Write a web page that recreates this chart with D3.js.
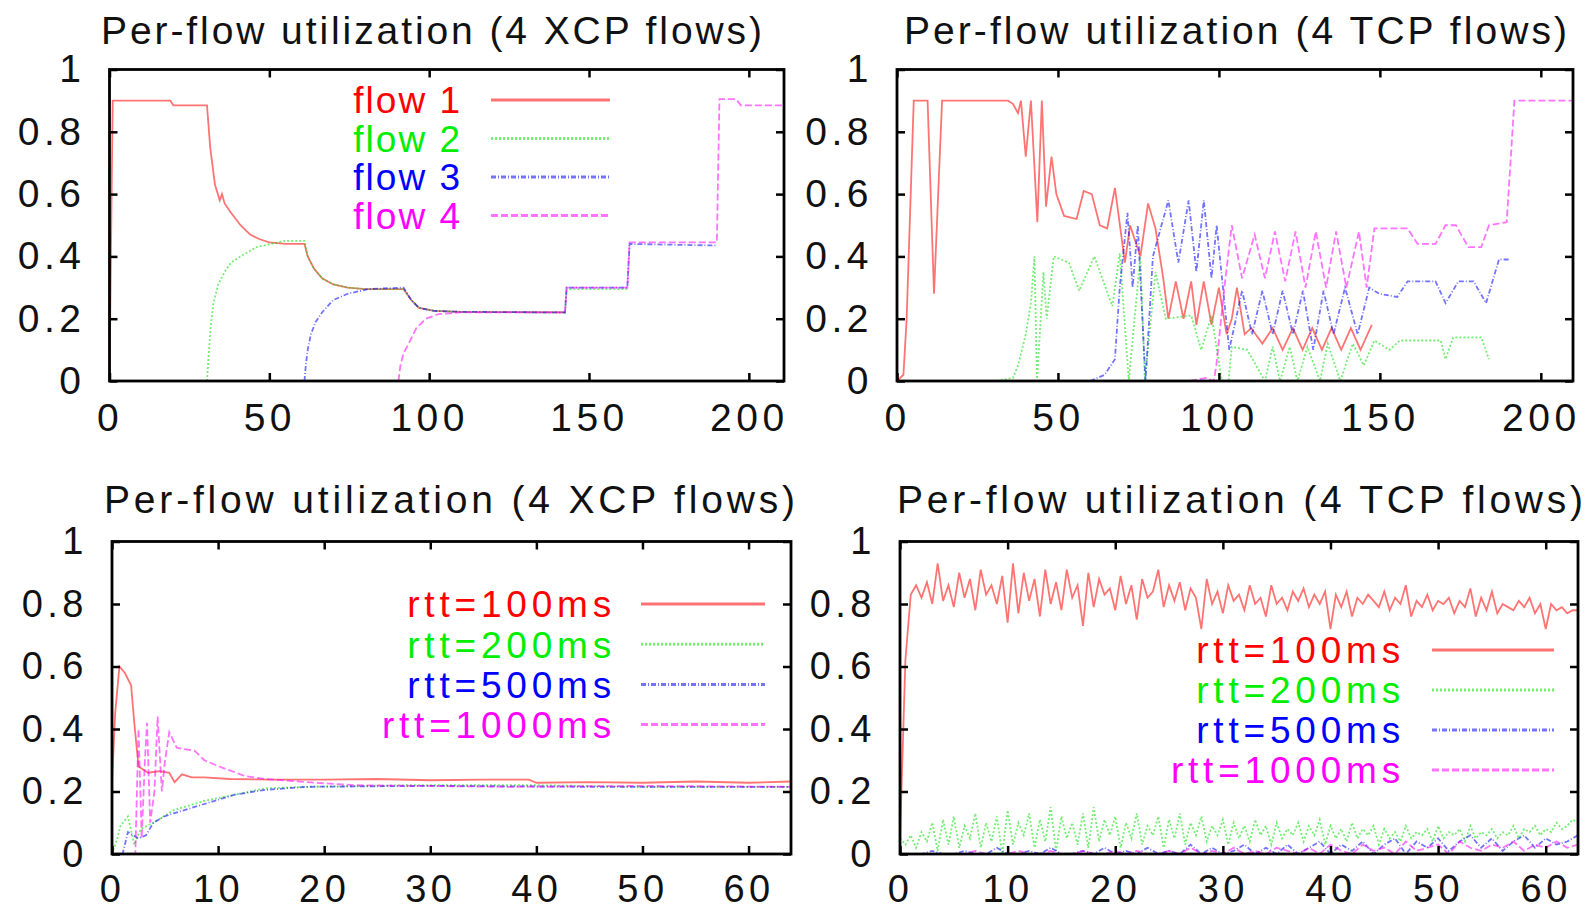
<!DOCTYPE html>
<html>
<head>
<meta charset="utf-8">
<script src="https://cdn.jsdelivr.net/npm/d3@7"></script>
<style>
  body { margin: 0; background: #fff; }
  text { font-family: "Liberation Sans", Arial, sans-serif; fill: #111; }
</style>
</head>
<body>
<svg class="chart" width="1589" height="911"></svg>
<script>
// ---- top-left: 4 XCP flows joining/leaving ----
const xcpF1T = [0, 1, 19, 20, 30.5, 31.5, 33, 34.5, 35.2, 36, 38, 41, 44, 47, 50, 55, 61, 62, 64, 66.5, 70, 74.5, 80, 92, 94.4, 96.8, 101.6, 110, 142.5];
const xcpF1U = [0, 0.9, 0.9, 0.885, 0.885, 0.75, 0.63, 0.58, 0.6, 0.57, 0.54, 0.5, 0.47, 0.455, 0.445, 0.44, 0.44, 0.4, 0.36, 0.33, 0.31, 0.3, 0.295, 0.295, 0.26, 0.235, 0.225, 0.222, 0.22];
const xcpF2T = [30.5, 31, 31.6, 32.5, 34, 36, 38, 41, 46, 50.5, 55, 61, 62, 64, 66.5, 70, 74.5, 80, 92, 94.4, 96.8, 101.6, 110, 142.5, 143, 162];
const xcpF2U = [0, 0.08, 0.17, 0.25, 0.31, 0.35, 0.38, 0.4, 0.43, 0.44, 0.45, 0.45, 0.4, 0.36, 0.33, 0.31, 0.3, 0.295, 0.295, 0.26, 0.235, 0.225, 0.222, 0.22, 0.295, 0.295];
const xcpF3T = [61, 61.4, 62, 63, 64.5, 66.5, 70, 74.5, 81, 92, 94.4, 96.8, 101.6, 110, 142.5, 143, 162, 162.7, 190];
const xcpF3U = [0, 0.05, 0.1, 0.15, 0.19, 0.22, 0.26, 0.28, 0.295, 0.3, 0.26, 0.235, 0.225, 0.222, 0.22, 0.3, 0.3, 0.44, 0.435];
const xcpF4T = [90.4, 91, 92, 93.6, 96, 99, 103, 109.6, 142.5, 143, 162, 162.7, 190, 190.8, 196, 197.5, 211];
const xcpF4U = [0, 0.05, 0.09, 0.12, 0.17, 0.2, 0.215, 0.22, 0.22, 0.3, 0.3, 0.445, 0.445, 0.905, 0.905, 0.885, 0.885];

// ---- top-right: 4 TCP flows joining/leaving ----
const tcpF1T = [0, 2, 3, 5.2, 9.5, 11.5, 14, 34.5, 36, 37.6, 38.5, 40, 41.6, 43.6, 45, 46.3, 48, 49.5, 51.9, 55.8, 58, 60.5, 63, 65.3, 67.7, 70.8, 72.4, 75.6, 78, 80.3, 82.7, 84.3, 86.6, 89, 91.4, 93, 95.3, 97.7, 100, 102.4, 104, 105.6, 108, 110, 113.5, 116.7, 119.8, 123, 126, 129, 132, 135, 138, 141, 144, 147.5];
const tcpF1U = [0, 0.02, 0.2, 0.9, 0.9, 0.28, 0.9, 0.9, 0.89, 0.86, 0.9, 0.72, 0.9, 0.51, 0.9, 0.56, 0.72, 0.6, 0.53, 0.52, 0.61, 0.6, 0.5, 0.49, 0.62, 0.38, 0.5, 0.4, 0.57, 0.49, 0.33, 0.2, 0.32, 0.2, 0.32, 0.18, 0.32, 0.18, 0.3, 0.15, 0.2, 0.3, 0.15, 0.17, 0.12, 0.17, 0.1, 0.17, 0.1, 0.17, 0.1, 0.17, 0.1, 0.17, 0.1, 0.18];
const tcpF2T = [31, 36, 37.6, 40, 41.6, 42.7, 43.5, 45.5, 46.5, 48.7, 53.4, 56.6, 61.3, 66.9, 69.2, 72, 75.6, 77, 80.3, 83.5, 91.4, 94.5, 97.7, 100.9, 103, 104, 108.8, 114.3, 116.7, 119, 122, 124.4, 127.5, 131.4, 133.8, 137.7, 141.6, 145, 148.3, 153, 156.2, 168.9, 170.4, 172.8, 181.5, 183.9];
const tcpF2U = [0, 0.01, 0.05, 0.15, 0.25, 0.4, 0, 0.35, 0.2, 0.4, 0.38, 0.29, 0.4, 0.24, 0.41, 0, 0.4, 0, 0.35, 0.2, 0.21, 0.1, 0.21, 0, 0, 0.11, 0.1, 0, 0.11, 0, 0.11, 0, 0.11, 0, 0.12, 0, 0.12, 0.05, 0.13, 0.1, 0.13, 0.13, 0.07, 0.14, 0.14, 0.07];
const tcpF3T = [60, 64.5, 67.7, 69.2, 71.6, 73.2, 74.8, 77.2, 79.5, 84.3, 87.4, 90.6, 93, 95.3, 97.7, 99.3, 103.2, 107.2, 110.3, 113.5, 116.7, 119.8, 123, 126.1, 129.3, 132.5, 135.6, 139.2, 143.1, 146.7, 149.8, 155.4, 158.6, 167.3, 170.4, 174.4, 179.1, 183, 187, 190.2];
const tcpF3U = [0, 0.02, 0.07, 0.3, 0.54, 0.3, 0.5, 0, 0.4, 0.58, 0.38, 0.58, 0.35, 0.58, 0.33, 0.5, 0.1, 0.29, 0.15, 0.29, 0.15, 0.29, 0.15, 0.29, 0.1, 0.29, 0.15, 0.3, 0.15, 0.3, 0.28, 0.27, 0.32, 0.32, 0.25, 0.32, 0.32, 0.25, 0.39, 0.39];
const tcpF4T = [91, 96, 98.4, 99.2, 101.7, 104, 107.2, 111.1, 114.3, 117.4, 120.6, 123.8, 126.9, 130.1, 133.3, 136.4, 139.6, 143.5, 145.9, 148.3, 158.6, 161.7, 167.3, 170.4, 173.6, 177.5, 181.5, 183.9, 189.4, 191.8, 210];
const tcpF4U = [0, 0.01, 0, 0.05, 0.3, 0.5, 0.33, 0.47, 0.33, 0.48, 0.32, 0.48, 0.3, 0.48, 0.3, 0.48, 0.3, 0.48, 0.3, 0.49, 0.49, 0.44, 0.44, 0.5, 0.5, 0.43, 0.43, 0.5, 0.51, 0.9, 0.9];

// ---- bottom-left: XCP flows with different RTTs ----
const xcpR100T = [0, 0.3, 0.7, 1.2, 1.8, 2.1, 2.5, 3.4, 4.5, 5.4, 5.9, 6.6, 7.5, 8.7, 11.1, 15, 20, 25, 30, 35, 39.3, 40, 45, 50, 55, 60, 64];
const xcpR100U = [0.23, 0.45, 0.6, 0.58, 0.54, 0.42, 0.28, 0.26, 0.265, 0.26, 0.23, 0.255, 0.245, 0.245, 0.24, 0.238, 0.238, 0.24, 0.236, 0.238, 0.238, 0.228, 0.23, 0.228, 0.232, 0.228, 0.232];
const xcpR200T = [0, 0.5, 0.8, 1.5, 2.1, 2.7, 3.9, 5.8, 8.7, 11.6, 14.4, 18.3, 27.8, 40, 50, 64];
const xcpR200U = [0, 0.05, 0.09, 0.12, 0.03, 0.08, 0.1, 0.14, 0.17, 0.19, 0.21, 0.215, 0.22, 0.22, 0.215, 0.215];
const xcpR500T = [0, 1, 1.5, 2.5, 3.2, 3.9, 4.9, 5.8, 8.7, 11.6, 14.4, 18.3, 30, 45, 64];
const xcpR500U = [0, 0, 0.07, 0.05, 0.06, 0.1, 0.12, 0.13, 0.16, 0.19, 0.205, 0.215, 0.218, 0.215, 0.215];
const xcpR1000T = [0, 2.2, 2.5, 2.8, 3.1, 3.3, 3.6, 4, 4.3, 4.7, 5, 5.4, 6.1, 7.8, 8.7, 10.1, 12.5, 14.4, 18.3, 23, 37.4, 50, 64];
const xcpR1000U = [0, 0, 0.4, 0.05, 0.3, 0.42, 0.1, 0.2, 0.44, 0.2, 0.3, 0.39, 0.34, 0.33, 0.3, 0.28, 0.25, 0.24, 0.23, 0.22, 0.215, 0.218, 0.215];

// ---- bottom-right: TCP flows with different RTTs (sampled every half second / second) ----
const tcpRStepFast = 0.5;
const tcpRStepSlow = 1;
const tcpR100U = [0.05, 0.62, 0.83, 0.86, 0.82, 0.87, 0.80, 0.93, 0.81, 0.86, 0.79, 0.90, 0.82, 0.88, 0.78, 0.91, 0.83, 0.86, 0.80, 0.89,
  0.74, 0.93, 0.77, 0.90, 0.81, 0.88, 0.76, 0.91, 0.80, 0.87, 0.78, 0.91, 0.82, 0.86, 0.73, 0.90, 0.79, 0.88, 0.83, 0.85,
  0.78, 0.89, 0.80, 0.86, 0.75, 0.88, 0.82, 0.84, 0.91, 0.79, 0.86, 0.81, 0.87, 0.78, 0.85, 0.82, 0.72, 0.88, 0.80, 0.84,
  0.77, 0.86, 0.81, 0.83, 0.78, 0.86, 0.80, 0.82, 0.76, 0.86, 0.80, 0.82, 0.78, 0.84, 0.81, 0.85, 0.79, 0.83, 0.80, 0.84,
  0.72, 0.83, 0.79, 0.84, 0.76, 0.82, 0.80, 0.83, 0.81, 0.79, 0.84, 0.78, 0.82, 0.80, 0.86, 0.76, 0.81, 0.79, 0.83, 0.78,
  0.81, 0.80, 0.82, 0.77, 0.81, 0.79, 0.85, 0.76, 0.82, 0.78, 0.84, 0.77, 0.80, 0.79, 0.78, 0.81, 0.79, 0.82, 0.77, 0.80,
  0.72, 0.80, 0.78, 0.79, 0.77, 0.78, 0.78];
const tcpR200U = [0.05, 0.03, 0.06, 0.02, 0.07, 0.04, 0.10, 0.01, 0.11, 0.03, 0.12, 0.02, 0.09, 0.05, 0.13, 0.02, 0.10, 0.04, 0.12, 0.00,
  0.14, 0.03, 0.10, 0.06, 0.13, 0.02, 0.11, 0.04, 0.15, 0.01, 0.12, 0.05, 0.10, 0.03, 0.13, 0.02, 0.15, 0.04, 0.11, 0.06,
  0.12, 0.02, 0.10, 0.05, 0.13, 0.03, 0.09, 0.06, 0.12, 0.02, 0.11, 0.05, 0.13, 0.03, 0.10, 0.06, 0.12, 0.04, 0.09, 0.06,
  0.11, 0.03, 0.10, 0.05, 0.09, 0.04, 0.11, 0.06, 0.09, 0.03, 0.10, 0.05, 0.08, 0.06, 0.10, 0.04, 0.09, 0.06, 0.11, 0.03,
  0.09, 0.05, 0.08, 0.04, 0.10, 0.05, 0.08, 0.06, 0.09, 0.03, 0.08, 0.05, 0.07, 0.04, 0.09, 0.05, 0.07, 0.06, 0.08, 0.04,
  0.09, 0.05, 0.07, 0.06, 0.08, 0.04, 0.09, 0.05, 0.07, 0.06, 0.08, 0.05, 0.07, 0.06, 0.09, 0.05, 0.08, 0.07, 0.09, 0.06,
  0.08, 0.07, 0.10, 0.08, 0.09, 0.11, 0.10];
const tcpR500U = [0, 0, 0, 0.01, 0, 0, 0.01, 0, 0, 0.02, 0, 0, 0.01, 0, 0.02, 0, 0, 0.01, 0, 0.02,
  0, 0.01, 0, 0.02, 0, 0.01, 0, 0.03, 0, 0.02, 0, 0.01, 0.03, 0, 0.02, 0, 0.03, 0, 0.02, 0.04,
  0, 0.03, 0.01, 0.04, 0, 0.03, 0.05, 0, 0.04, 0.02, 0.05, 0.01, 0.04, 0.06, 0.02, 0.05, 0.01, 0.04, 0.06, 0.02,
  0.05, 0.03, 0.04, 0.06];
const tcpR1000U = [0, 0, 0, 0, 0, 0, 0, 0.01, 0, 0, 0, 0.01, 0, 0, 0.01, 0, 0, 0.01, 0, 0,
  0.01, 0, 0.01, 0, 0, 0.01, 0, 0.02, 0, 0.01, 0, 0.02, 0, 0.01, 0, 0.02, 0.01, 0, 0.02, 0,
  0.03, 0.01, 0, 0.03, 0.01, 0.02, 0, 0.04, 0.01, 0.02, 0.03, 0, 0.04, 0.02, 0.01, 0.03, 0.02, 0.04, 0.01, 0.03,
  0.02, 0.04, 0.02, 0.03];

const yTicks = [0, 0.2, 0.4, 0.6, 0.8, 1];
const xTicksLong = [0, 50, 100, 150, 200];
const xTicksShort = [0, 10, 20, 30, 40, 50, 60];
const flowLabels = ["flow 1", "flow 2", "flow 3", "flow 4"];
const rttLabels = ["rtt=100ms", "rtt=200ms", "rtt=500ms", "rtt=1000ms"];
const titleXcp = "Per-flow utilization (4 XCP flows)";
const titleTcp = "Per-flow utilization (4 TCP flows)";

const colors = ["#ff0000", "#00e000", "#0000ff", "#ff00ff"];
const textColors = ["#ff0000", "#00ee00", "#0000ff", "#ff00ff"];
const dashes = [null, "2,2", "5,2,1,2", "7,3"];

const zip = (t, u) => t.map((d, i) => [d, u[i]]);
const sampled = (u, step) => u.map((d, i) => [i * step, d]);

const panels = [
  {left: 109.5, right: 784, top: 69.5, bottom: 381, xmax: 211, xticks: xTicksLong,
   title: titleXcp, titleL: 101, titleW: 661, titleY: 44, labelPad: 22,
   series: [zip(xcpF1T, xcpF1U), zip(xcpF2T, xcpF2U), zip(xcpF3T, xcpF3U), zip(xcpF4T, xcpF4U)],
   legend: {labels: flowLabels, textX: 462, spacing: 2, x1: 491, x2: 610, y0: 100, dy: 38.5}},
  {left: 897, right: 1573, top: 69.5, bottom: 381, xmax: 210, xticks: xTicksLong,
   title: titleTcp, titleL: 904, titleW: 663, titleY: 44, labelPad: 22,
   series: [zip(tcpF1T, tcpF1U), zip(tcpF2T, tcpF2U), zip(tcpF3T, tcpF3U), zip(tcpF4T, tcpF4U)],
   legend: null},
  {left: 112, right: 791, top: 541.5, bottom: 854, xmax: 64, xticks: xTicksShort,
   title: titleXcp, titleL: 104, titleW: 691, titleY: 513, labelPad: 21,
   series: [zip(xcpR100T, xcpR100U), zip(xcpR200T, xcpR200U), zip(xcpR500T, xcpR500U), zip(xcpR1000T, xcpR1000U)],
   legend: {labels: rttLabels, textX: 616, spacing: 4.8, x1: 641, x2: 765, y0: 604, dy: 40.2}},
  {left: 900, right: 1578, top: 541.5, bottom: 854, xmax: 63, xticks: xTicksShort,
   title: titleTcp, titleL: 897, titleW: 686, titleY: 513, labelPad: 21,
   series: [sampled(tcpR100U, tcpRStepFast), sampled(tcpR200U, tcpRStepFast),
            sampled(tcpR500U, tcpRStepSlow), sampled(tcpR1000U, tcpRStepSlow)],
   legend: {labels: rttLabels, textX: 1405, spacing: 4.8, x1: 1432, x2: 1554, y0: 650, dy: 40}}
];

const svg = d3.select(".chart");

function styleLine(sel, i) {
  sel.attr("fill", "none")
    .attr("stroke", colors[i])
    .attr("stroke-opacity", 0.55)
    .attr("stroke-width", 1.8)
    .attr("stroke-dasharray", dashes[i]);
}

panels.forEach((p, pi) => {
  const w = p.right - p.left, h = p.bottom - p.top;
  const g = svg.append("g").attr("transform", `translate(${p.left},${p.top})`);

  const x = d3.scaleLinear().domain([0, p.xmax]).range([0, w]);
  const y = d3.scaleLinear().domain([0, 1]).range([h, 0]);

  svg.append("text")
    .attr("x", p.titleL)
    .attr("y", p.titleY)
    .attr("font-size", 39)
    .attr("textLength", p.titleW)
    .attr("lengthAdjust", "spacing")
    .text(p.title);

  g.append("clipPath").attr("id", "clip" + pi)
    .append("rect").attr("width", w).attr("height", h);

  const line = d3.line().x(d => x(d[0])).y(d => y(d[1]));
  const plot = g.append("g").attr("clip-path", `url(#clip${pi})`);
  p.series.forEach((s, i) => {
    plot.append("path").datum(s).attr("d", line).call(styleLine, i);
  });

  // axes: inward ticks, mirrored on top/right
  const bottomAx = g.append("g").attr("transform", `translate(0,${h})`)
    .call(d3.axisBottom(x).tickValues(p.xticks).tickSize(-8).tickPadding(p.labelPad));
  const leftAx = g.append("g")
    .call(d3.axisLeft(y).tickValues(yTicks).tickFormat(d3.format("")).tickSize(-8).tickPadding(24));
  g.append("g").call(d3.axisTop(x).tickValues(p.xticks).tickSize(-8).tickFormat(""));
  g.append("g").attr("transform", `translate(${w},0)`)
    .call(d3.axisRight(y).tickValues(yTicks).tickSize(-8).tickFormat(""));

  g.selectAll(".domain").remove();
  g.selectAll(".tick line").attr("stroke", "#000").attr("stroke-width", 2.5);
  [bottomAx, leftAx].forEach(a => a.selectAll("text")
    .attr("font-size", pi < 2 ? 39 : 38)
    .attr("letter-spacing", 4.5)
    .attr("fill", "#111")
    .style("font-family", '"Liberation Sans", Arial, sans-serif'));

  g.append("rect").attr("width", w).attr("height", h)
    .attr("fill", "none").attr("stroke", "#000").attr("stroke-width", 2.8);

  if (p.legend) {
    const lg = svg.append("g");
    p.legend.labels.forEach((lab, i) => {
      const ly = p.legend.y0 + i * p.legend.dy;
      lg.append("text")
        .attr("x", p.legend.textX).attr("y", ly)
        .attr("dy", "0.36em")
        .attr("text-anchor", "end")
        .attr("font-size", 37)
        .attr("letter-spacing", p.legend.spacing)
        .style("fill", textColors[i])
        .text(lab);
      lg.append("line")
        .attr("x1", p.legend.x1).attr("x2", p.legend.x2)
        .attr("y1", ly).attr("y2", ly)
        .call(styleLine, i)
        .attr("stroke-width", 3);
    });
  }
});
</script>
</body>
</html>
